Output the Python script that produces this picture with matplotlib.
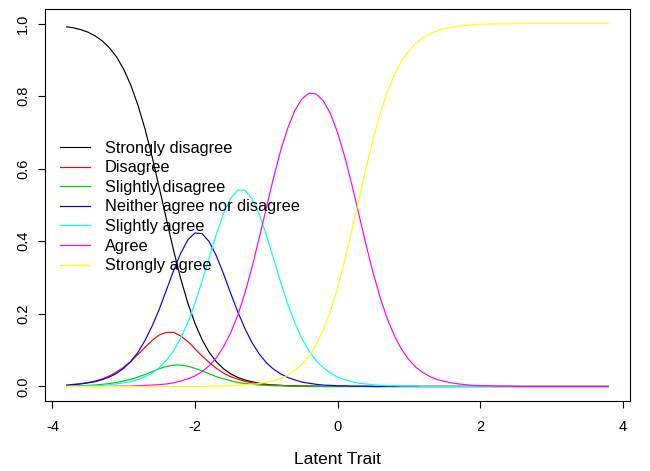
import numpy as np
import matplotlib
matplotlib.use("Agg")
import matplotlib.pyplot as plt

plt.rcParams['font.family'] = ['Liberation Sans', 'DejaVu Sans']

# Latent trait grid, -3.8 to 3.8 in steps of 0.1
theta = np.linspace(-3.8, 3.8, 77)

strongly_disagree = [
    0.991, 0.988, 0.983, 0.976, 0.966, 0.952, 0.933, 0.908, 0.874, 0.830,
    0.775, 0.709, 0.632, 0.547, 0.460, 0.375, 0.297, 0.230, 0.174, 0.129,
    0.094, 0.068, 0.049, 0.035, 0.025, 0.018, 0.013, 0.009, 0.006, 0.004,
    0.003, 0.002, 0.002, 0.001, 0.001, 0.001, 0.0, 0.0, 0.0, 0.0,
    0.0, 0.0, 0.0, 0.0, 0.0, 0.0, 0.0, 0.0, 0.0, 0.0,
    0.0, 0.0, 0.0, 0.0, 0.0, 0.0, 0.0, 0.0, 0.0, 0.0,
    0.0, 0.0, 0.0, 0.0, 0.0, 0.0, 0.0, 0.0, 0.0, 0.0,
    0.0, 0.0, 0.0, 0.0, 0.0, 0.0, 0.0]
disagree = [
    0.004, 0.006, 0.008, 0.011, 0.015, 0.021, 0.029, 0.040, 0.053, 0.069,
    0.088, 0.108, 0.127, 0.142, 0.149, 0.149, 0.139, 0.124, 0.104, 0.084,
    0.066, 0.050, 0.037, 0.027, 0.020, 0.014, 0.010, 0.007, 0.005, 0.004,
    0.003, 0.002, 0.001, 0.001, 0.001, 0.0, 0.0, 0.0, 0.0, 0.0,
    0.0, 0.0, 0.0, 0.0, 0.0, 0.0, 0.0, 0.0, 0.0, 0.0,
    0.0, 0.0, 0.0, 0.0, 0.0, 0.0, 0.0, 0.0, 0.0, 0.0,
    0.0, 0.0, 0.0, 0.0, 0.0, 0.0, 0.0, 0.0, 0.0, 0.0,
    0.0, 0.0, 0.0, 0.0, 0.0, 0.0, 0.0]
slightly_disagree = [
    0.001, 0.001, 0.002, 0.003, 0.004, 0.006, 0.008, 0.011, 0.015, 0.020,
    0.026, 0.033, 0.041, 0.049, 0.055, 0.059, 0.059, 0.056, 0.050, 0.043,
    0.035, 0.027, 0.021, 0.016, 0.011, 0.008, 0.006, 0.004, 0.003, 0.002,
    0.002, 0.001, 0.001, 0.001, 0.0, 0.0, 0.0, 0.0, 0.0, 0.0,
    0.0, 0.0, 0.0, 0.0, 0.0, 0.0, 0.0, 0.0, 0.0, 0.0,
    0.0, 0.0, 0.0, 0.0, 0.0, 0.0, 0.0, 0.0, 0.0, 0.0,
    0.0, 0.0, 0.0, 0.0, 0.0, 0.0, 0.0, 0.0, 0.0, 0.0,
    0.0, 0.0, 0.0, 0.0, 0.0, 0.0, 0.0]
neither = [
    0.003, 0.005, 0.007, 0.010, 0.013, 0.019, 0.026, 0.036, 0.050, 0.069,
    0.094, 0.127, 0.167, 0.213, 0.266, 0.319, 0.367, 0.404, 0.423, 0.421,
    0.399, 0.360, 0.311, 0.257, 0.206, 0.160, 0.121, 0.090, 0.066, 0.048,
    0.035, 0.025, 0.018, 0.012, 0.009, 0.006, 0.004, 0.003, 0.002, 0.002,
    0.001, 0.001, 0.001, 0.0, 0.0, 0.0, 0.0, 0.0, 0.0, 0.0,
    0.0, 0.0, 0.0, 0.0, 0.0, 0.0, 0.0, 0.0, 0.0, 0.0,
    0.0, 0.0, 0.0, 0.0, 0.0, 0.0, 0.0, 0.0, 0.0, 0.0,
    0.0, 0.0, 0.0, 0.0, 0.0, 0.0, 0.0]
slightly_agree = [
    0.001, 0.001, 0.001, 0.002, 0.002, 0.003, 0.005, 0.007, 0.010, 0.013,
    0.019, 0.027, 0.037, 0.052, 0.072, 0.098, 0.133, 0.176, 0.229, 0.290,
    0.355, 0.419, 0.476, 0.518, 0.541, 0.541, 0.518, 0.475, 0.418, 0.354,
    0.289, 0.228, 0.176, 0.132, 0.098, 0.071, 0.052, 0.037, 0.026, 0.019,
    0.013, 0.009, 0.007, 0.005, 0.003, 0.002, 0.002, 0.001, 0.001, 0.001,
    0.0, 0.0, 0.0, 0.0, 0.0, 0.0, 0.0, 0.0, 0.0, 0.0,
    0.0, 0.0, 0.0, 0.0, 0.0, 0.0, 0.0, 0.0, 0.0, 0.0,
    0.0, 0.0, 0.0, 0.0, 0.0, 0.0, 0.0]
agree = [
    0.0, 0.0, 0.0, 0.0, 0.0, 0.0, 0.0, 0.001, 0.001, 0.001,
    0.002, 0.003, 0.004, 0.005, 0.007, 0.010, 0.015, 0.021, 0.029, 0.041,
    0.057, 0.079, 0.109, 0.147, 0.196, 0.257, 0.328, 0.408, 0.491, 0.573,
    0.648, 0.711, 0.760, 0.792, 0.808, 0.806, 0.787, 0.752, 0.700, 0.634,
    0.557, 0.474, 0.391, 0.313, 0.244, 0.186, 0.139, 0.102, 0.074, 0.053,
    0.038, 0.027, 0.019, 0.014, 0.010, 0.007, 0.005, 0.003, 0.002, 0.002,
    0.001, 0.001, 0.001, 0.0, 0.0, 0.0, 0.0, 0.0, 0.0, 0.0,
    0.0, 0.0, 0.0, 0.0, 0.0, 0.0, 0.0]
strongly_agree = [
    0.0, 0.0, 0.0, 0.0, 0.0, 0.0, 0.0, 0.0, 0.0, 0.0,
    0.0, 0.0, 0.0, 0.0, 0.0, 0.0, 0.0, 0.0, 0.0, 0.0,
    0.001, 0.001, 0.001, 0.002, 0.003, 0.004, 0.006, 0.008, 0.011, 0.016,
    0.022, 0.031, 0.044, 0.061, 0.084, 0.115, 0.156, 0.208, 0.271, 0.346,
    0.428, 0.515, 0.601, 0.682, 0.752, 0.812, 0.860, 0.897, 0.925, 0.946,
    0.961, 0.972, 0.980, 0.986, 0.990, 0.993, 0.995, 0.997, 0.998, 0.998,
    0.999, 0.999, 0.999, 1.0, 1.0, 1.0, 1.0, 1.0, 1.0, 1.0,
    1.0, 1.0, 1.0, 1.0, 1.0, 1.0, 1.0]

series = [strongly_disagree, disagree, slightly_disagree, neither,
          slightly_agree, agree, strongly_agree]
labels = ["Strongly disagree", "Disagree", "Slightly disagree",
          "Neither agree nor disagree", "Slightly agree", "Agree", "Strongly agree"]
colors = ["#000000", "#FF0000", "#00CD00", "#0000FF", "#00FFFF", "#FF00FF", "#FFFF00"]

xticks = [-4, -2, 0, 2, 4]
xticklabels = ["-4", "-2", "0", "2", "4"]
yticks = [0, 0.2, 0.4, 0.6, 0.8, 1.0]
yticklabels = ["0.0", "0.2", "0.4", "0.6", "0.8", "1.0"]

W, H = 650, 471
fig = plt.figure(figsize=(W / 100, H / 100), dpi=100)
ax = fig.add_axes([45 / W, 1 - 401 / H, 585 / W, 392 / H])

for vals, c, lab in zip(series, colors, labels):
    ax.plot(theta, vals, color=c, lw=0.85, label=lab)

ax.set_xlim(-4.104, 4.104)
ax.set_ylim(-0.04, 1.04)
ax.set_xticks(xticks)
ax.set_xticklabels(xticklabels)
ax.set_yticks(yticks)
ax.set_yticklabels(yticklabels, rotation=90, va="center")
ax.tick_params(axis="both", length=5, width=0.8, labelsize=10.5, color="black")
ax.tick_params(axis="x", pad=9)
ax.tick_params(axis="y", pad=5.8)
for s in ax.spines.values():
    s.set_linewidth(0.8)
ax.set_xlabel("Latent Trait", fontsize=12.5, labelpad=13)

ax.legend(loc="upper left", bbox_to_anchor=(0.0256, 0.664), frameon=False,
          fontsize=11.8, handlelength=1.83, handletextpad=0.91,
          labelspacing=0.28, borderpad=0, borderaxespad=0)

fig.savefig("out.png", dpi=100)
